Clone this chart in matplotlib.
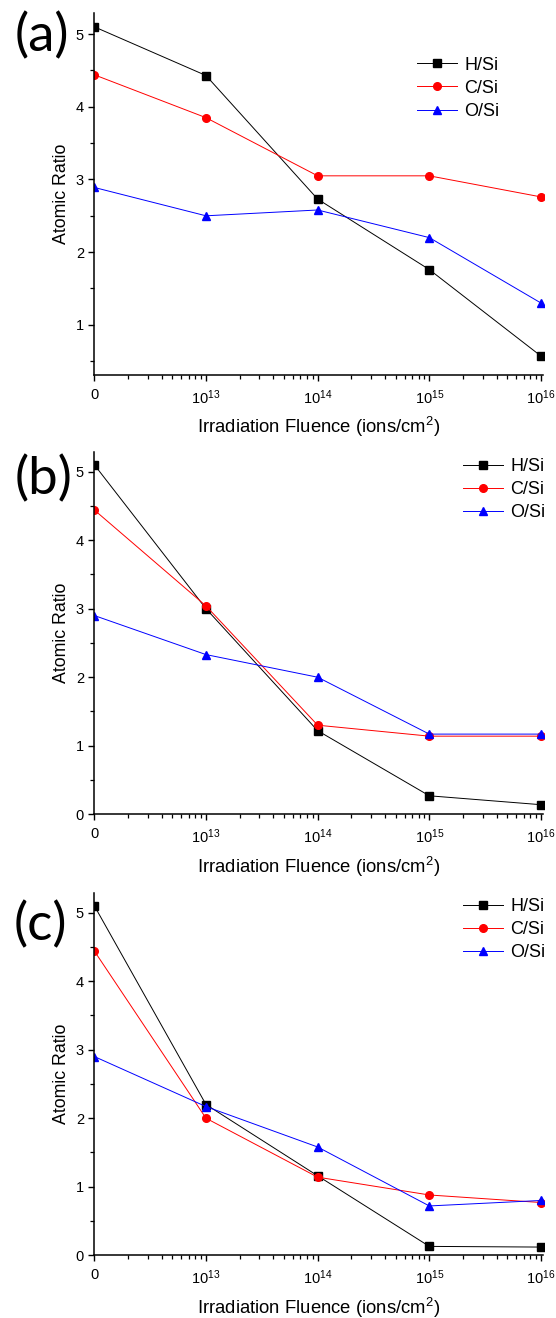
import numpy as np
import matplotlib
matplotlib.use("Agg")
import matplotlib.pyplot as plt
from matplotlib.ticker import LogLocator, FixedLocator, MultipleLocator, NullFormatter

plt.rcParams['font.family'] = ['Liberation Sans', 'DejaVu Sans']
plt.rcParams['mathtext.fontset'] = 'custom'
plt.rcParams['mathtext.rm'] = 'Liberation Sans'
plt.rcParams['mathtext.it'] = 'Liberation Sans'

# Data
fluence = [0, 1e13, 1e14, 1e15, 1e16]
x_tick_labels = ["0", r"$10^{13}$", r"$10^{14}$", r"$10^{15}$", r"$10^{16}$"]
series_names = ["H/Si", "C/Si", "O/Si"]
panel_names = ["(a)", "(b)", "(c)"]

a_H = [5.10, 4.43, 2.73, 1.76, 0.57]
a_C = [4.44, 3.85, 3.05, 3.05, 2.76]
a_O = [2.89, 2.50, 2.58, 2.20, 1.30]

b_H = [5.10, 3.00, 1.22, 0.27, 0.14]
b_C = [4.44, 3.04, 1.30, 1.14, 1.14]
b_O = [2.90, 2.33, 2.00, 1.17, 1.17]

c_H = [5.10, 2.20, 1.16, 0.13, 0.12]
c_C = [4.44, 2.00, 1.14, 0.88, 0.77]
c_O = [2.90, 2.17, 1.58, 0.72, 0.80]

panels = [(a_H, a_C, a_O), (b_H, b_C, b_O), (c_H, c_C, c_O)]
ylims = [(0.31, 5.29), (0.0, 5.29), (0.0, 5.29)]

colors = ["black", "#ff0000", "#0000ff"]
markers = ["s", "o", "^"]

W, H = 556, 1318
fig = plt.figure(figsize=(W / 100, H / 100), dpi=100)

# axes boxes in pixels: (top, bottom)
boxes = [(13, 375), (451.7, 814.3), (892.7, 1255.3)]
left_px, right_px = 94.3, 543.5
legend_locs = [(416.5, 56.5), (462.8, 458), (462.8, 898)]
label_centers = [(41.5, 36.5), (44, 479), (40.5, 925)]

# fluence 0 is drawn at the position of 1e12 (decade below 1e13)
plot_x = [1e12 if f == 0 else f for f in fluence]
x_right = 10 ** (16 + 2.5 / 111.7)

for i, (data, yl, (top, bot)) in enumerate(zip(panels, ylims, boxes)):
    ax = fig.add_axes([left_px / W, 1 - bot / H, (right_px - left_px) / W, (bot - top) / H])
    for vals, name, col, mk in zip(data, series_names, colors, markers):
        ax.plot(plot_x, vals, color=col, marker=mk, markersize=5.5, linewidth=0.7,
                label=name, markeredgecolor=col, markerfacecolor=col)
    ax.set_xscale('log')
    ax.set_xlim(1e12, x_right)
    ax.set_ylim(*yl)
    ax.spines['top'].set_visible(False)
    ax.spines['right'].set_visible(False)
    ax.spines['left'].set_linewidth(1.1)
    ax.spines['bottom'].set_linewidth(1.1)
    ax.xaxis.set_major_locator(FixedLocator(plot_x))
    ax.set_xticklabels(x_tick_labels)
    ax.xaxis.set_minor_locator(LogLocator(base=10, subs=np.arange(2, 10), numticks=20))
    ax.xaxis.set_minor_formatter(NullFormatter())
    ax.yaxis.set_major_locator(MultipleLocator(1))
    ax.yaxis.set_minor_locator(MultipleLocator(0.5))
    ax.tick_params(axis='both', which='major', direction='out', length=4.5, width=1.0,
                   labelsize=10.5, pad=3)
    ax.tick_params(axis='both', which='minor', direction='out', length=2.6, width=0.9)
    ax.tick_params(axis='x', which='major', pad=5)
    ax.set_ylabel("Atomic Ratio", fontsize=12.8, labelpad=4)
    ax.set_xlabel(r"Irradiation Fluence (ions/cm$^2$)", fontsize=13.3, labelpad=6)
    lx, ly = legend_locs[i]
    ax.legend(loc='upper left', bbox_to_anchor=(lx / W, 1 - ly / H),
              bbox_transform=fig.transFigure, frameon=False, fontsize=13,
              handlelength=2.22, handletextpad=0.42, labelspacing=0.345, borderpad=0,
              borderaxespad=0)
    cx, cy = label_centers[i]
    fig.text(cx / W, 1 - cy / H, panel_names[i], fontsize=38, family=['Lato', 'DejaVu Sans'],
             ha='center', va='center')

fig.savefig("out.png", dpi=100)
